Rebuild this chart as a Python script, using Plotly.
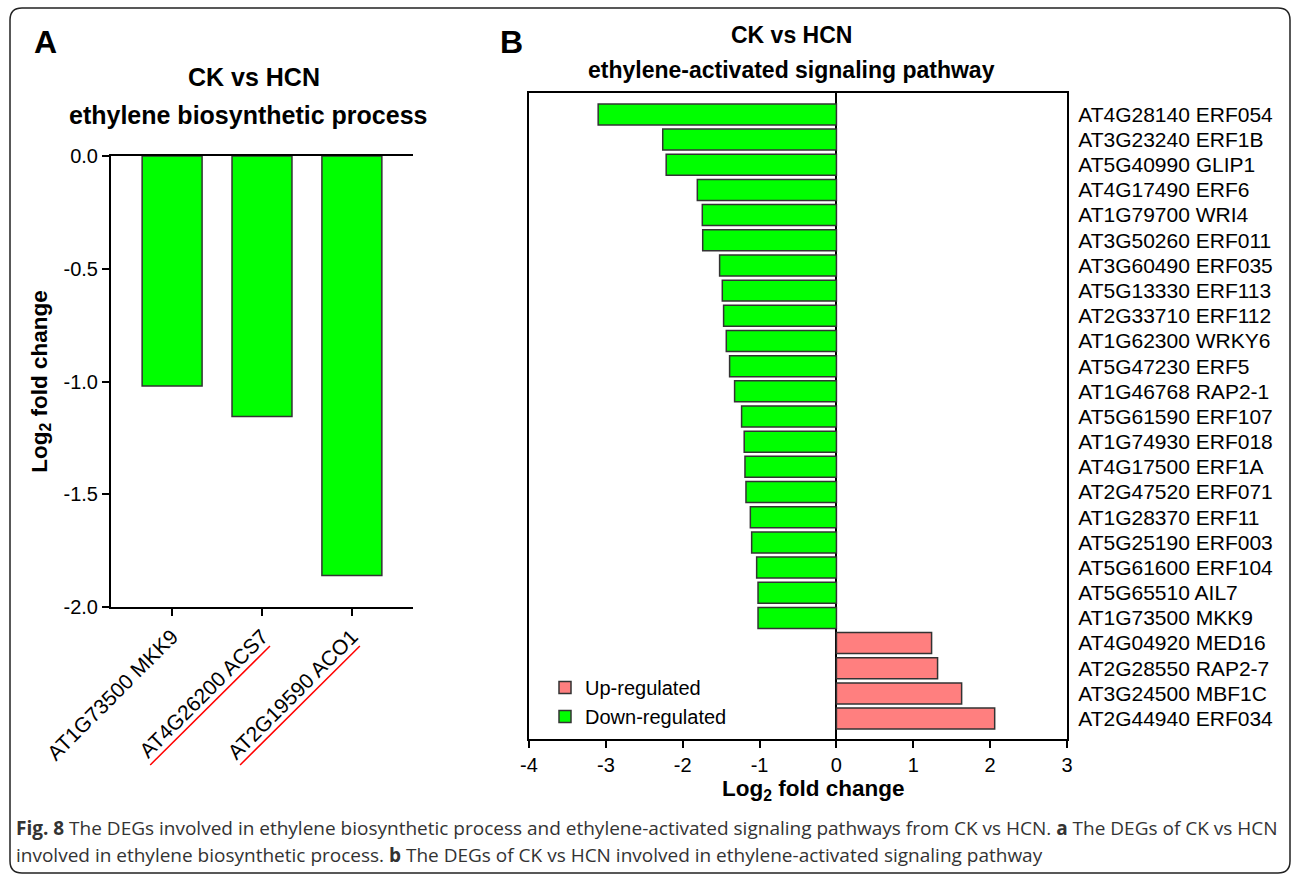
import plotly.graph_objects as go

W, H = 1292, 875


def px(x):
    return x / W


def py(y):
    return 1 - y / H


FONT = "Liberation Sans, Arial, Helvetica, sans-serif"
GREEN = "#00FF00"
RED = "#FF7F7F"
EDGE = "#333333"

# ---------------- Panel A data ----------------
a_genes = ["AT1G73500 MKK9", "AT4G26200 ACS7", "AT2G19590 ACO1"]
a_values = [-1.02, -1.155, -1.86]
a_underlined = ["AT4G26200 ACS7", "AT2G19590 ACO1"]
a_ytick_vals = [0, -0.5, -1.0, -1.5, -2.0]
a_ytick_text = ["0.0", "-0.5", "-1.0", "-1.5", "-2.0"]

# ---------------- Panel B data ----------------
b_genes = [
    "AT4G28140 ERF054", "AT3G23240 ERF1B", "AT5G40990 GLIP1", "AT4G17490 ERF6",
    "AT1G79700 WRI4", "AT3G50260 ERF011", "AT3G60490 ERF035", "AT5G13330 ERF113",
    "AT2G33710 ERF112", "AT1G62300 WRKY6", "AT5G47230 ERF5", "AT1G46768 RAP2-1",
    "AT5G61590 ERF107", "AT1G74930 ERF018", "AT4G17500 ERF1A", "AT2G47520 ERF071",
    "AT1G28370 ERF11", "AT5G25190 ERF003", "AT5G61600 ERF104", "AT5G65510 AIL7",
    "AT1G73500 MKK9", "AT4G04920 MED16", "AT2G28550 RAP2-7", "AT3G24500 MBF1C",
    "AT2G44940 ERF034",
]
b_values = [
    -3.10, -2.26, -2.215, -1.81,
    -1.745, -1.74, -1.52, -1.485,
    -1.468, -1.433, -1.39, -1.325,
    -1.234, -1.20, -1.19, -1.177,
    -1.12, -1.103, -1.038, -1.02,
    -1.02, 1.238, 1.316, 1.629,
    2.059,
]
b_xtick_vals = [-4, -3, -2, -1, 0, 1, 2, 3]
b_xtick_text = ["-4", "-3", "-2", "-1", "0", "1", "2", "3"]
legend_up = "Up-regulated"
legend_down = "Down-regulated"

up_genes = [g for g, v in zip(b_genes, b_values) if v > 0]
up_vals = [v for v in b_values if v > 0]
down_genes = [g for g, v in zip(b_genes, b_values) if v <= 0]
down_vals = [v for v in b_values if v <= 0]

fig = go.Figure()

fig.add_trace(go.Bar(
    x=a_genes, y=a_values, xaxis="x", yaxis="y", width=0.667,
    marker=dict(color=GREEN, line=dict(color=EDGE, width=1.5)),
    showlegend=False,
))

fig.add_trace(go.Bar(
    x=up_vals, y=up_genes, orientation="h", xaxis="x2", yaxis="y2", width=0.834,
    marker=dict(color=RED, line=dict(color=EDGE, width=1.5)),
    name=legend_up, showlegend=True,
))
fig.add_trace(go.Bar(
    x=down_vals, y=down_genes, orientation="h", xaxis="x2", yaxis="y2", width=0.834,
    marker=dict(color=GREEN, line=dict(color=EDGE, width=1.5)),
    name=legend_down, showlegend=True,
))

axis_common = dict(
    showline=True, linecolor="black", linewidth=2, showgrid=False, automargin=False,
    ticks="outside", ticklen=7, tickwidth=2, tickcolor="black",
    tickfont=dict(family=FONT, size=20, color="black"),
)

shapes = []
# underlines under selected panel-A labels
for g in a_underlined:
    i = a_genes.index(g)
    shapes.append(dict(
        type="line", xref="x", yref="paper",
        x0=i - 1.244, y0=py(765), x1=i + 0.089, y1=py(646),
        line=dict(color="#FF0000", width=1.5),
    ))

# rounded outer border
x0, y0, x1, y1, r = px(10), py(8), px(1290), py(873), 12
rx, ry = r / W, r / H
path = (
    f"M {x0+rx},{y0} L {x1-rx},{y0} Q {x1},{y0} {x1},{y0-ry} "
    f"L {x1},{y1+ry} Q {x1},{y1} {x1-rx},{y1} "
    f"L {x0+rx},{y1} Q {x0},{y1} {x0},{y1+ry} "
    f"L {x0},{y0-ry} Q {x0},{y0} {x0+rx},{y0} Z"
)
shapes.append(dict(type="path", xref="paper", yref="paper", path=path,
                   line=dict(color="#222222", width=1.5)))

annotations = []


def ann(text, x, y, size, bold=True, xanchor="center", family=FONT, color="black"):
    annotations.append(dict(
        text=f"<b>{text}</b>" if bold else text, x=px(x), y=py(y),
        xref="paper", yref="paper", showarrow=False, xanchor=xanchor, yanchor="middle",
        align="left", font=dict(family=family, size=size, color=color),
    ))


ann("A", 45, 42, 32)
ann("B", 511, 42, 32)
ann("CK vs HCN", 254, 77, 25)
ann("ethylene biosynthetic process", 248, 115, 25)
ann("CK vs HCN", 791, 35, 23)
ann("ethylene-activated signaling pathway", 791, 70, 23)
ann("Log<sub>2</sub> fold change", 814, 790, 22.5)

CAP = "Open Sans, Noto Sans, sans-serif"
ann("<b>Fig. 8</b> The DEGs involved in ethylene biosynthetic process and ethylene-activated "
    "signaling pathways from CK vs HCN. <b>a</b> The DEGs of CK vs HCN",
    14, 828, 19, bold=False, xanchor="left", family=CAP, color="#333333")
ann("involved in ethylene biosynthetic process. <b>b</b> The DEGs of CK vs HCN involved in "
    "ethylene-activated signaling pathway",
    14, 855, 19, bold=False, xanchor="left", family=CAP, color="#333333")

fig.update_layout(
    width=W, height=H, margin=dict(l=0, r=0, t=0, b=0, autoexpand=False),
    paper_bgcolor="white", plot_bgcolor="white",
    barmode="overlay",
    font=dict(family=FONT, color="black"),
    xaxis=dict(
        **{**axis_common, "tickfont": dict(family=FONT, size=21, color="black")},
        domain=[px(111), px(413)], anchor="y",
        type="category", categoryorder="array", categoryarray=a_genes,
        range=[-0.68, 2.68], mirror=True, tickangle=-45, zeroline=False,
    ),
    yaxis=dict(
        **axis_common, domain=[py(607), py(156)], anchor="x",
        range=[-2, 0], tickvals=a_ytick_vals, ticktext=a_ytick_text, zeroline=False,
        title=dict(text="<b>Log<sub>2</sub> fold change</b>",
                   font=dict(family=FONT, size=22.5, color="black"), standoff=10),
    ),
    xaxis2=dict(
        **axis_common, domain=[px(529), px(1067)], anchor="y2",
        range=[-4, 3], tickvals=b_xtick_vals, ticktext=b_xtick_text, mirror=True,
        zeroline=True, zerolinecolor="black", zerolinewidth=2,
    ),
    yaxis2=dict(
        showline=True, linecolor="black", linewidth=2, showgrid=False, mirror=True,
        automargin=False,
        domain=[py(739), py(93)], anchor="x2", side="right",
        type="category", categoryorder="array", categoryarray=b_genes,
        range=[24.81, -0.85], ticks="", ticklabelstandoff=5,
        tickfont=dict(family=FONT, size=21, color="black"), zeroline=False,
    ),
    legend=dict(
        x=px(545), y=py(668), xanchor="left", yanchor="top",
        font=dict(family=FONT, size=20, color="black"), bgcolor="rgba(0,0,0,0)",
        traceorder="normal", itemwidth=30, tracegroupgap=0,
    ),
    shapes=shapes,
    annotations=annotations,
)

fig.write_html("out.html")
